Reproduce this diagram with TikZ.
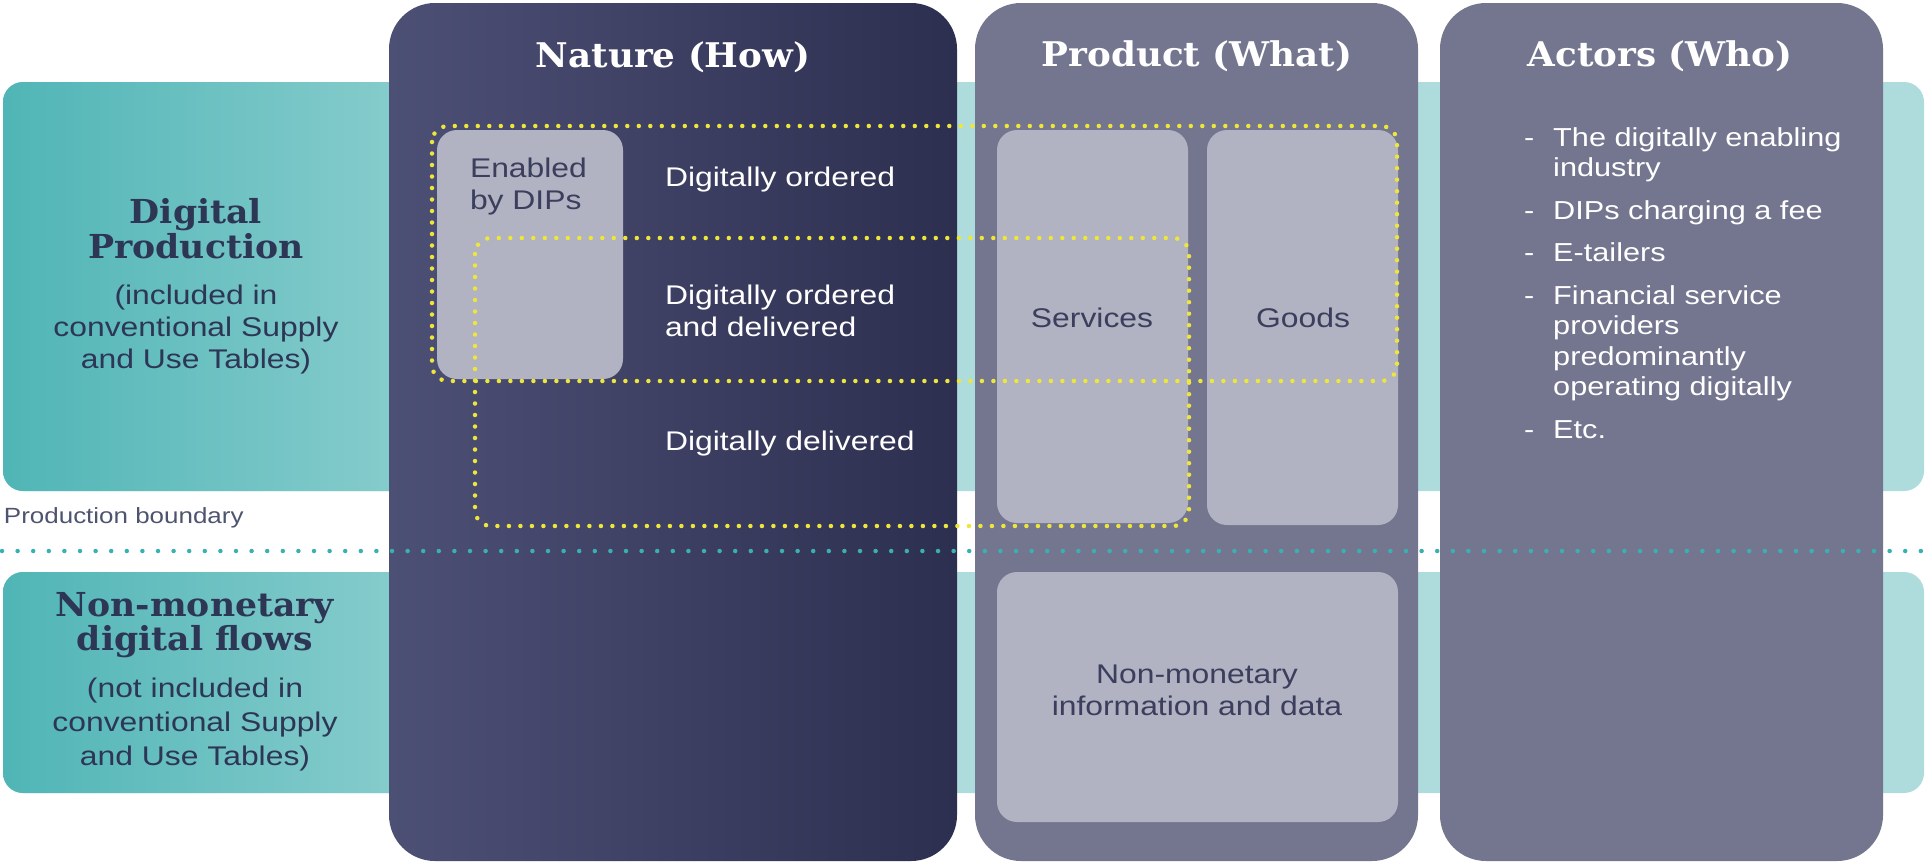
\documentclass[tikz,border=0pt]{standalone}
\usepackage{fontspec}
\setmainfont[FakeStretch=1.18]{Liberation Sans}
\newfontfamily\slabfont[FakeStretch=1.05]{DejaVu Serif}
\usetikzlibrary{positioning}

\definecolor{tealdeep}{HTML}{50B5B6}
\definecolor{tealsoft}{HTML}{8CCECE}
\definecolor{tealpale}{HTML}{AEDCDC}
\definecolor{navylight}{HTML}{4D5075}
\definecolor{navydark}{HTML}{2D2F50}
\definecolor{slate}{HTML}{74768F}
\definecolor{cellgrey}{HTML}{B1B2C2}
\definecolor{ink}{HTML}{2E3656}
\definecolor{cellink}{HTML}{3B3E5C}
\definecolor{dotyellow}{HTML}{EEE63A}
\definecolor{dotteal}{HTML}{3BB0B1}

\begin{document}
\begin{tikzpicture}[
            x=1pt, y=-1pt,
            every node/.style={inner sep=0pt, outer sep=0pt},
            band/.style={rounded corners=20pt},
            column/.style={rectangle, rounded corners=46pt, anchor=north west, minimum height=858pt},
            cell/.style={rectangle, fill=cellgrey, rounded corners=20pt, anchor=north west},
            heading/.style={font=\slabfont\bfseries\fontsize{34}{38}\selectfont, text=white, anchor=base},
            rowhead/.style={font=\slabfont\bfseries\fontsize{33}{35}\selectfont, text=ink, align=center, anchor=base},
            rownote/.style={font=\fontsize{27}{32}\selectfont, text=ink, align=center, anchor=base},
            howtext/.style={font=\fontsize{27}{32}\selectfont, text=white, align=left, anchor=base west},
            celltext/.style={font=\fontsize{27}{32}\selectfont, text=cellink, align=center},
            ring/.style={draw=dotyellow, line width=4.5pt, line cap=round, dash pattern=on 0pt off 11.5pt, rounded corners=16pt},
            boundary/.style={draw=dotteal, line width=4.5pt, line cap=round, dash pattern=on 0pt off 15.6pt}
            ]
        \useasboundingbox (0,0) rectangle (1926,865);

        % teal row bands
        \fill[band, tealpale] (3,82) rectangle (1924,491);
        \shade[band, left color=tealdeep, right color=tealsoft] (3,82) rectangle (440,491);
        \fill[band, tealpale] (3,572) rectangle (1924,793);
        \shade[band, left color=tealdeep, right color=tealsoft] (3,572) rectangle (440,793);

        % the three columns
        \node[column, minimum width=568pt, left color=navylight, right color=navydark] (nature) at (389,3) {};
        \node[column, minimum width=443pt, fill=slate] (product) at (975,3) {};
        \node[column, minimum width=443pt, fill=slate] (actors) at (1440,3) {};

        \node[heading] (howtitle) at (673,67) {Nature (How)};
        \node[heading] (whattitle) at (1197,66) {Product (What)};
        \node[heading] (whotitle) at (1660,66) {Actors (Who)};

        % grey cells
        \node[cell, minimum width=186pt, minimum height=249pt] (dips) at (437,130) {};
        \node[cell, minimum width=191pt, minimum height=393pt] (services) at (997,130) {};
        \node[cell, minimum width=191pt, minimum height=395pt] (goods) at (1207,130) {};
        \node[cell, minimum width=401pt, minimum height=250pt] (nonmon) at (997,572) {};

        % multi-line nodes sit on the baseline of their last line
        \node[celltext, align=left, anchor=base west] (dipstext) at (470,209) {Enabled\\by DIPs};
        \node[celltext] (servicestext) at (1092,318) {Services};
        \node[celltext] (goodstext) at (1303,318) {Goods};
        \node[celltext, anchor=base] (nonmontext) at (1197,715) {Non-monetary\\information and data};

        \node[howtext] (ordered) at (665,186) {Digitally ordered};
        \node[howtext] (orddel) at (665,336) {Digitally ordered\\and delivered};
        \node[howtext] (delivered) at (665,450) {Digitally delivered};

        \node[font=\fontsize{26}{30.5}\selectfont, text=white, anchor=base west] (actorlist) at (1524,146) {%
            \begin{tabular}[t]{@{}l@{\hspace{19pt}}l@{}}
            - & The digitally enabling\\
              & industry\\[12pt]
            - & DIPs charging a fee\\[12pt]
            - & E-tailers\\[12pt]
            - & Financial service\\
              & providers\\
              & predominantly\\
              & operating digitally\\[12pt]
            - & Etc.
            \end{tabular}};

        % row labels
        \node[rowhead] (prodhead) at (196,258) {Digital\\Production};
        \node[rownote] (prodnote) at (196,368) {(included in\\conventional Supply\\and Use Tables)};
        \node[rowhead, font=\slabfont\bfseries\fontsize{33}{33.5}\selectfont] (flowhead) at (195,650) {Non-monetary\\digital flows};
        \node[rownote, font=\fontsize{27}{34}\selectfont] (flownote) at (195,765) {(not included in\\conventional Supply\\and Use Tables)};
        \node[font=\fontsize{22}{26}\selectfont, text=ink!85, anchor=base west] (boundlabel) at (4,523) {Production boundary};

        \coordinate (bleft) at (2,551);
        \coordinate (bright) at (1926,551);
        \draw[boundary] (bleft) -- (bright);

        % dotted scopes
        \draw[ring] (432,126) rectangle (1397,381);
        \draw[ring] (475,238) rectangle (1189,526);
\end{tikzpicture}
\end{document}
